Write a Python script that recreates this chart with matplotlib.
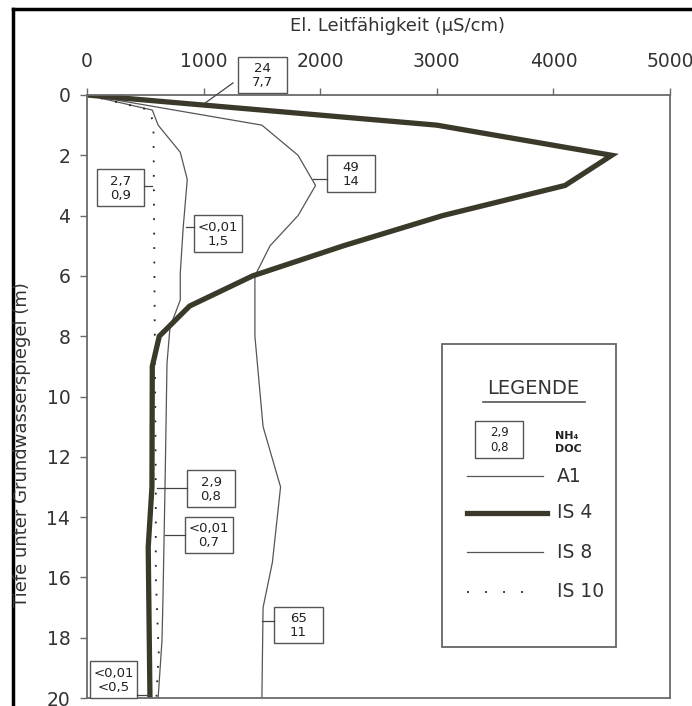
import matplotlib
matplotlib.use("Agg")
import matplotlib.pyplot as plt
from matplotlib.patches import Rectangle
from matplotlib.lines import Line2D

plt.rcParams['font.family'] = ['DejaVu Sans']

# ---- data ----
a1_depth = [0, 1, 2, 3, 4, 5, 6, 8, 11, 13, 15.5, 17, 20]
a1_ec = [0, 1500, 1810, 1960, 1810, 1570, 1440, 1440, 1510, 1660, 1590, 1510, 1500]

is4_depth = [0, 1, 2, 3, 4, 5, 6, 7, 8, 9, 13, 15, 20]
is4_ec = [0, 3000, 4500, 4100, 3050, 2200, 1420, 880, 620, 560, 557, 525, 540]

is8_depth = [0, 0.5, 1, 1.9, 2.8, 4.4, 5.9, 6.8, 7.7, 8.9, 12.8, 16.6, 18.1, 20]
is8_ec = [0, 560, 610, 800, 860, 825, 800, 800, 712, 686, 670, 652, 643, 610]

is10_depth = [0, 0.5, 1, 9, 13, 16, 18.5, 20]
is10_ec = [0, 540, 570, 583, 590, 590, 615, 595]

x_ticks = [0, 1000, 2000, 3000, 4000, 5000]
y_ticks = [0, 2, 4, 6, 8, 10, 12, 14, 16, 18, 20]

# annotation boxes: text, (x0, x1, y0, y1) in data, pointer (x_from, y_from, x_to, y_to)
ann_texts = ["24\n7,7", "49\n14", "2,7\n0,9", "<0,01\n1,5", "2,9\n0,8",
             "<0,01\n0,7", "65\n11", "<0,01\n<0,5"]
ann_boxes = [(1295, 1715, -1.26, -0.07), (2058, 2470, 1.99, 3.22),
             (86, 489, 2.45, 3.68), (918, 1329, 3.98, 5.21),
             (858, 1269, 12.44, 13.66), (840, 1252, 14.0, 15.19),
             (1604, 2024, 16.98, 18.18), (26, 429, 18.77, 20.0)]
ann_ptrs = [(1252, -0.40, 1012, 0.27), (2058, 2.8, 1940, 2.8),
            (489, 3.02, 557, 3.02), (918, 4.38, 849, 4.38),
            (858, 13.03, 600, 13.03), (840, 14.59, 669, 14.59),
            (1604, 17.45, 1500, 17.45), (429, 19.9, 540, 19.9)]

line_gray = '#555555'
thick_col = '#3b3a2a'
text_col = '#333333'
spine_col = '#6a6a6a'

fig = plt.figure(figsize=(6.92, 7.06), dpi=100)
ax = fig.add_axes([87/692, 1-698/706, 583/692, 603/706])

ax.plot(a1_ec, a1_depth, color=line_gray, lw=0.9, label='A1')
ax.plot(is8_ec, is8_depth, color=line_gray, lw=0.9, label='IS 8')
ax.plot(is10_ec, is10_depth, color='#222222', lw=1.3, linestyle=(0, (1, 7)), label='IS 10')
ax.plot(is4_ec, is4_depth, color=thick_col, lw=3.8, solid_joinstyle='miter', label='IS 4')

ax.set_xlim(0, 5000)
ax.set_ylim(20, 0)
ax.xaxis.tick_top()
ax.set_xticks(x_ticks)
ax.set_yticks(y_ticks)
ax.tick_params(axis='x', direction='out', length=5, width=1.0, color=spine_col,
               labelsize=13.5, labelcolor=text_col, pad=12)
ax.tick_params(axis='y', direction='out', length=5, width=1.0, color=spine_col,
               labelsize=13.5, labelcolor=text_col, pad=7)
for s in ax.spines.values():
    s.set_color(spine_col)
    s.set_linewidth(1.3)

# annotation boxes
for txt, (x0, x1, y0, y1), (px0, py0, px1, py1) in zip(ann_texts, ann_boxes, ann_ptrs):
    ax.add_patch(Rectangle((x0, y0), x1 - x0, y1 - y0, fill=True, facecolor='white',
                           edgecolor='#555555', lw=1.0, clip_on=False, zorder=5))
    ax.plot([px0, px1], [py0, py1], color='#444444', lw=0.9, clip_on=False, zorder=5)
    l1, l2 = txt.split("\n")
    xc = (x0 + x1) / 2
    ax.text(xc, y0 + (y1 - y0) * 0.33, l1, ha='center', va='center', fontsize=9.5,
            color='#222222', zorder=6, clip_on=False)
    ax.text(xc, y0 + (y1 - y0) * 0.72, l2, ha='center', va='center', fontsize=9.5,
            color='#222222', zorder=6, clip_on=False)

# legend box (drawn manually)
ax.add_patch(Rectangle((3045, 8.26), 4537 - 3045, 18.31 - 8.26, fill=True,
                       facecolor='white', edgecolor='#666666', lw=1.3, zorder=4))
ax.text(3825, 9.72, "LEGENDE", ha='center', va='center', fontsize=14, color=text_col, zorder=6)
ax.plot([3396, 4271], [10.18, 10.18], color='#555555', lw=1.2, zorder=6)
ax.add_patch(Rectangle((3328, 10.81), 3739 - 3328, 12.04 - 10.81, fill=False,
                       edgecolor='#555555', lw=1.0, zorder=6))
ax.text(3534, 11.2, "2,9", ha='center', va='center', fontsize=8.5, color='#222222', zorder=6)
ax.text(3534, 11.68, "0,8", ha='center', va='center', fontsize=8.5, color='#222222', zorder=6)
ax.text(4014, 11.3, "NH\u2084", ha='left', va='center', fontsize=8, color='#222222',
        fontweight='bold', zorder=6)
ax.text(4014, 11.75, "DOC", ha='left', va='center', fontsize=8, color='#222222',
        fontweight='bold', zorder=6)
leg_items = [('A1', 12.64, dict(color=line_gray, lw=0.9), 3911),
             ('IS 4', 13.86, dict(color=thick_col, lw=3.8), 3945),
             ('IS 8', 15.16, dict(color=line_gray, lw=0.9), 3911),
             ('IS 10', 16.48, dict(color='#222222', lw=1.3, linestyle=(0, (1, 9))), 3870)]
for name, yy, style, xend in leg_items:
    ax.plot([3259, xend], [yy, yy], zorder=6, **style)
    ax.text(4030, yy, name, ha='left', va='center', fontsize=13.5, color=text_col, zorder=6)

# titles
fig.text(398/692, 1 - 26/706, "El. Leitfähigkeit (µS/cm)", ha='center', va='center',
         fontsize=13, color=text_col)
fig.text(22/692, 1 - 445/706, "Tiefe unter Grundwasserspiegel (m)", ha='center',
         va='center', rotation=90, fontsize=13, color=text_col)

# figure frame (top and left edges visible)
fig.add_artist(Line2D([13/692, 1.0], [1 - 9/706, 1 - 9/706], color='black', lw=2.5,
                      transform=fig.transFigure))
fig.add_artist(Line2D([13/692, 13/692], [0.0, 1 - 9/706], color='black', lw=2.5,
                      transform=fig.transFigure))

fig.savefig("out.png", dpi=100, facecolor='white')
